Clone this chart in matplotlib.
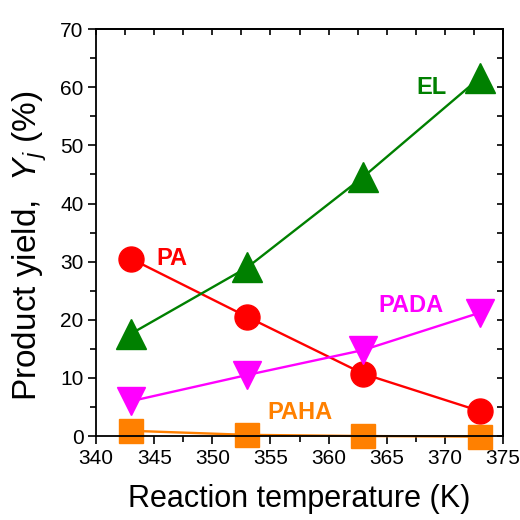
import matplotlib
matplotlib.use("agg")
import matplotlib.pyplot as plt
from matplotlib.ticker import MultipleLocator

plt.rcParams["font.family"] = ["Liberation Sans", "DejaVu Sans"]
plt.rcParams["mathtext.fontset"] = "custom"
plt.rcParams["mathtext.it"] = "Liberation Sans:italic"
plt.rcParams["mathtext.rm"] = "Liberation Sans"

# data
temperature = [343, 353, 363, 373]
yield_pa = [30.5, 20.5, 10.7, 4.3]
yield_el = [17.6, 29.0, 44.6, 61.6]
yield_pada = [6.0, 10.5, 14.8, 21.2]
yield_paha = [0.9, 0.2, 0.0, -0.1]

series = [
    ("PA", yield_pa, "#ff0000", "o", 18, (346.5, 30.6)),
    ("EL", yield_el, "#008000", "^", 21, (368.9, 59.9)),
    ("PADA", yield_pada, "#ff00ff", "v", 20, (367.1, 22.5)),
    ("PAHA", yield_paha, "#ff8000", "s", 17, (357.5, 4.0)),
]

fig = plt.figure(figsize=(5.2, 5.2), dpi=100)
ax = fig.add_axes([0.185, 0.1615, 0.782, 0.7825])

for name, values, color, marker, ms, (tx, ty) in series:
    ax.plot(temperature, values, color=color, marker=marker, markersize=ms,
            linewidth=1.7, clip_on=False)
    ax.text(tx, ty, name, color=color, fontsize=17, fontweight="bold",
            ha="center", va="center")

ax.set_xlim(340, 375)
ax.set_ylim(0, 70)
ax.xaxis.set_major_locator(MultipleLocator(5))
ax.xaxis.set_minor_locator(MultipleLocator(2.5))
ax.yaxis.set_major_locator(MultipleLocator(10))
ax.yaxis.set_minor_locator(MultipleLocator(5))

ax.tick_params(which="both", direction="out", top=False, right=False,
               labelsize=15, width=1.2)
ax.tick_params(which="major", length=6, pad=3)
ax.tick_params(which="minor", length=4)

# inward ticks on top and right
sec_x = ax.secondary_xaxis("top")
sec_x.xaxis.set_major_locator(MultipleLocator(2.5))
sec_x.tick_params(direction="in", length=4, width=1.2, labeltop=False)
sec_y = ax.secondary_yaxis("right")
sec_y.yaxis.set_major_locator(MultipleLocator(5))
sec_y.tick_params(direction="in", length=4, width=1.2, labelright=False)

for spine in ax.spines.values():
    spine.set_linewidth(1.3)
for s in (sec_x, sec_y):
    for spine in s.spines.values():
        spine.set_linewidth(1.3)

ax.set_xlabel("Reaction temperature (K)", fontsize=22, labelpad=12)
ax.set_ylabel("Product yield,  $Y_j$ (%)", fontsize=24)
ax.yaxis.set_label_coords(-0.115, 0.467)

fig.savefig("out.png", dpi=100, facecolor="white")
plt.close(fig)
